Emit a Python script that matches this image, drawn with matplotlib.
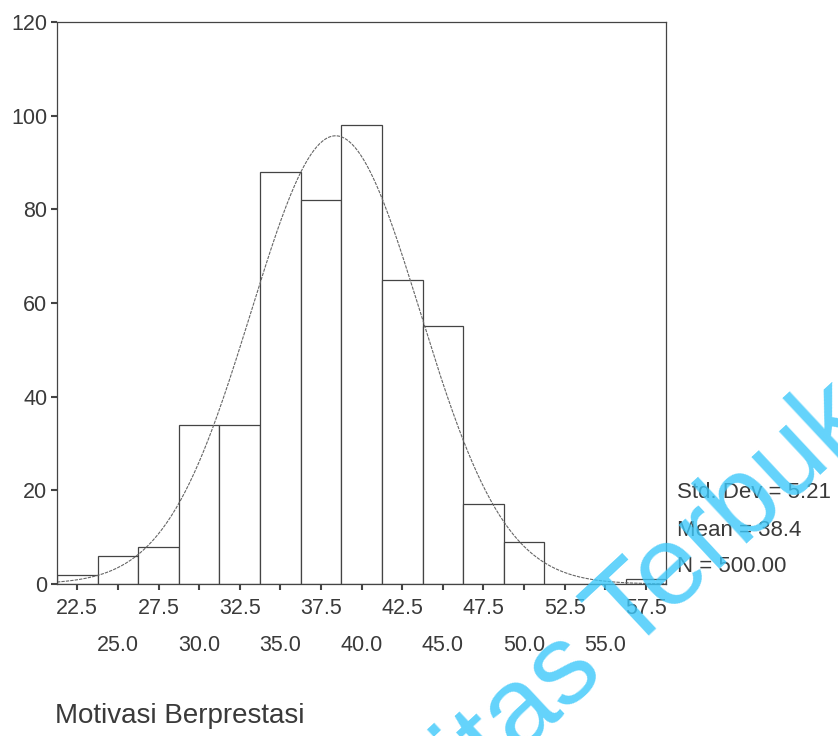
import matplotlib
matplotlib.use("Agg")
import matplotlib.pyplot as plt
import numpy as np

plt.rcParams['font.family'] = ['Liberation Sans', 'DejaVu Sans']

# histogram data (bin midpoints and counts)
bin_mid = [22.5, 25.0, 27.5, 30.0, 32.5, 35.0, 37.5, 40.0, 42.5, 45.0, 47.5, 50.0, 52.5, 55.0, 57.5]
counts = [2, 6, 8, 34, 34, 88, 82, 98, 65, 55, 17, 9, 0, 0, 1]
bin_width = 2.5

# summary statistics shown on the chart
std_dev = 5.21
mean = 38.4
n_total = 500

y_ticks = [0, 20, 40, 60, 80, 100, 120]
x_label = "Motivasi Berprestasi"

line_col = '#444444'
text_col = '#3a3a3a'

fig = plt.figure(figsize=(8.38, 7.36), dpi=100)
ax = fig.add_axes([0.068, 0.2065, 0.727, 0.7635])

ax.bar(bin_mid, counts, width=bin_width, facecolor='white', edgecolor=line_col, linewidth=0.9)

# normal curve from the displayed mean / std dev
xs = np.linspace(21.25, 58.75, 400)
ys = n_total * bin_width / (std_dev * np.sqrt(2 * np.pi)) * np.exp(-0.5 * ((xs - mean) / std_dev) ** 2)
ax.plot(xs, ys, color='#666666', linewidth=0.8, linestyle=(0, (3, 1)))

ax.set_xlim(21.25, 58.75)
ax.set_ylim(0, 120)

# two staggered rows of x labels
major = bin_mid[0::2]
minor = bin_mid[1::2]
ax.set_xticks(major)
ax.set_xticklabels([f"{v:.1f}" for v in major])
ax.set_xticks(minor, minor=True)
ax.set_xticklabels([f"{v:.1f}" for v in minor], minor=True)
ax.tick_params(axis='x', which='major', length=4, width=1.5, pad=6, labelsize=15.5,
               color=line_col, labelcolor=text_col)
ax.tick_params(axis='x', which='minor', length=4, width=1.5, pad=33, labelsize=15.5,
               color=line_col, labelcolor=text_col)

ax.set_yticks(y_ticks)
ax.tick_params(axis='y', length=4, width=1.5, pad=3, labelsize=15.5,
               color=line_col, labelcolor=text_col)

for s in ax.spines.values():
    s.set_color(line_col)
    s.set_linewidth(0.9)

# statistics text on the right
fig.text(677 / 838, 1 - 493 / 736, f"Std. Dev = {std_dev:.2f}", fontsize=16, color=text_col, va='center')
fig.text(677 / 838, 1 - 530 / 736, f"Mean = {mean:.1f}", fontsize=16, color=text_col, va='center')
fig.text(677 / 838, 1 - 567 / 736, f"N = {n_total:.2f}", fontsize=16, color=text_col, va='center')

fig.text(55 / 838, 1 - 716 / 736, x_label, fontsize=20, color=text_col, va='center')

# watermark
fig.text(0.6675, 0.0251, "Universitas Terbuka", fontsize=81, color='#3cc8fa', alpha=0.8,
         rotation=43, rotation_mode='anchor', ha='center', va='baseline', zorder=10)

fig.savefig('out.png', dpi=100)
